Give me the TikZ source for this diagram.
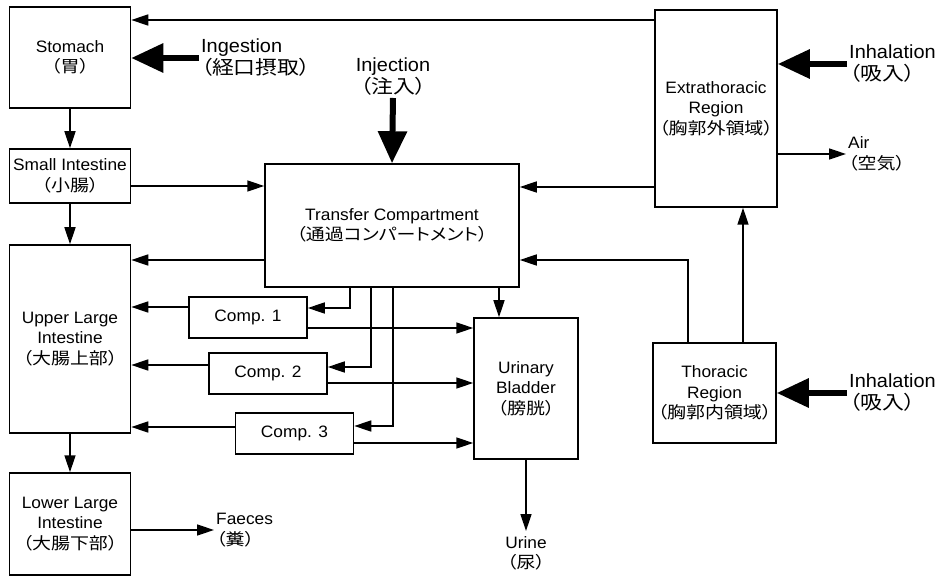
\documentclass[tikz,border=0pt]{standalone}
\usepackage{fontspec}
\setmainfont{Liberation Sans}[FakeStretch=1.05]
\newfontfamily\jp{Noto Sans CJK JP}[FakeStretch=1.15, RawFeature=+palt]
\usetikzlibrary{arrows.meta}

\begin{document}
\begin{tikzpicture}[
    x=1pt, y=-1pt,
    font=\fontsize{16.5}{20.5}\selectfont,
    box/.style={draw, line width=1.5pt, align=center, inner sep=0pt},
    lbl/.style={inner sep=2pt},
    inlbl/.style={inner sep=2pt, font=\fontsize{19}{22}\selectfont},
    flow/.style={line width=1.5pt, -{Triangle[length=17pt,width=11pt]}},
    bigarrow/.style={line width=6pt, -{Triangle[length=32pt,width=28pt]}}
]
\useasboundingbox (0,0) rectangle (940,577);

% left column
\node[box, minimum width=121pt, minimum height=101pt] (stomach) at (70,57.5) {Stomach\\{\jp （胃）}};
\node[box, minimum width=121pt, minimum height=54pt] (si) at (70,176) {Small Intestine\\{\jp （小腸）}};
\node[box, minimum width=121pt, minimum height=188pt] (uli) at (70,339) {Upper Large\\Intestine\\{\jp （大腸上部）}};
\node[box, minimum width=121pt, minimum height=102pt] (lli) at (70,524) {Lower Large\\Intestine\\{\jp （大腸下部）}};

% middle
\node[box, minimum width=254pt, minimum height=123pt] (tc) at (392,225.5) {Transfer Compartment\\{\jp （通過コンパートメント）}};
\node[box, minimum width=118pt, minimum height=41pt] (comp1) at (248,317.5) {Comp. 1};
\node[box, minimum width=118pt, minimum height=41pt] (comp2) at (268,373.5) {Comp. 2};
\node[box, minimum width=118pt, minimum height=41pt] (comp3) at (294.5,433.5) {Comp. 3};
\node[box, minimum width=104pt, minimum height=141pt] (ub) at (526,388.5) {Urinary\\Bladder\\{\jp （膀胱）}};

% right column
\node[box, minimum width=122pt, minimum height=197pt] (er) at (716,108.5) {Extrathoracic\\Region\\{\jp （胸郭外領域）}};
\node[box, minimum width=123pt, minimum height=100pt] (tr) at (714.5,393) {Thoracic\\Region\\{\jp （胸郭内領域）}};

% inputs and outputs
\node[inlbl, anchor=west, align=left] (ingest) at (199,58) {Ingestion\\{\jp （経口摂取）}};
\node[inlbl, align=center] (inject) at (393,77) {Injection\\{\jp （注入）}};
\node[inlbl, anchor=west, align=left] (inhal1) at (847,64) {Inhalation\\{\jp （吸入）}};
\node[lbl, anchor=west, align=left] (air) at (846,154) {Air\\{\jp （空気）}};
\node[inlbl, anchor=west, align=left] (inhal2) at (847,393) {Inhalation\\{\jp （吸入）}};
\node[lbl, anchor=west, align=left] (faeces) at (214,530) {Faeces\\{\jp （糞）}};
\node[lbl, anchor=north, align=center, inner ysep=5pt] (urine) at (526,531) {Urine\\{\jp （尿）}};

\draw[bigarrow] (ingest.west) -- (stomach.east |- ingest.west);
\draw[bigarrow] (inject.south) -- (tc.north);
\draw[bigarrow] (inhal1.west) -- (er.east |- inhal1.west);
\draw[bigarrow] (inhal2.west) -- (tr.east |- inhal2.west);

\draw[flow] (stomach.south) -- (si.north);
\draw[flow] (si.south) -- (uli.north);
\draw[flow] (uli.south) -- (lli.north);
\draw[flow] (lli.east |- faeces.west) -- (faeces.west);
\draw[flow] (si.east |- 0,186) -- (tc.west |- 0,186);
\draw[flow] (tc.west |- 0,260) -- (uli.east |- 0,260);

\draw[flow] (er.west |- 0,20) -- (stomach.east |- 0,20);
\draw[flow] (er.west |- 0,187) -- (tc.east |- 0,187);
\draw[flow] (er.east |- air.west) -- (air.west);
\draw[flow] (tr.north -| 743,0) -- (er.south -| 743,0);
\draw[flow] (tr.north -| 688,0) |- (tc.east |- 0,260);

% transfer compartment to the compartments
\draw[flow] (tc.south -| 350,0) |- (comp1.east |- 0,308);
\draw[flow] (tc.south -| 371,0) |- (comp2.east |- 0,367);
\draw[flow] (tc.south -| 393,0) |- (comp3.east |- 0,426);
\draw[flow] (comp1.west |- 0,307) -- (uli.east |- 0,307);
\draw[flow] (comp2.west |- 0,365) -- (uli.east |- 0,365);
\draw[flow] (comp3.west |- 0,427) -- (uli.east |- 0,427);
\draw[flow] (comp1.east |- 0,328) -- (ub.west |- 0,328);
\draw[flow] (comp2.east |- 0,383) -- (ub.west |- 0,383);
\draw[flow] (comp3.east |- 0,443) -- (ub.west |- 0,443);

\draw[flow] (tc.south -| 499,0) -- (ub.north -| 499,0);
\draw[flow] (ub.south) -- (urine.north);
\end{tikzpicture}
\end{document}
